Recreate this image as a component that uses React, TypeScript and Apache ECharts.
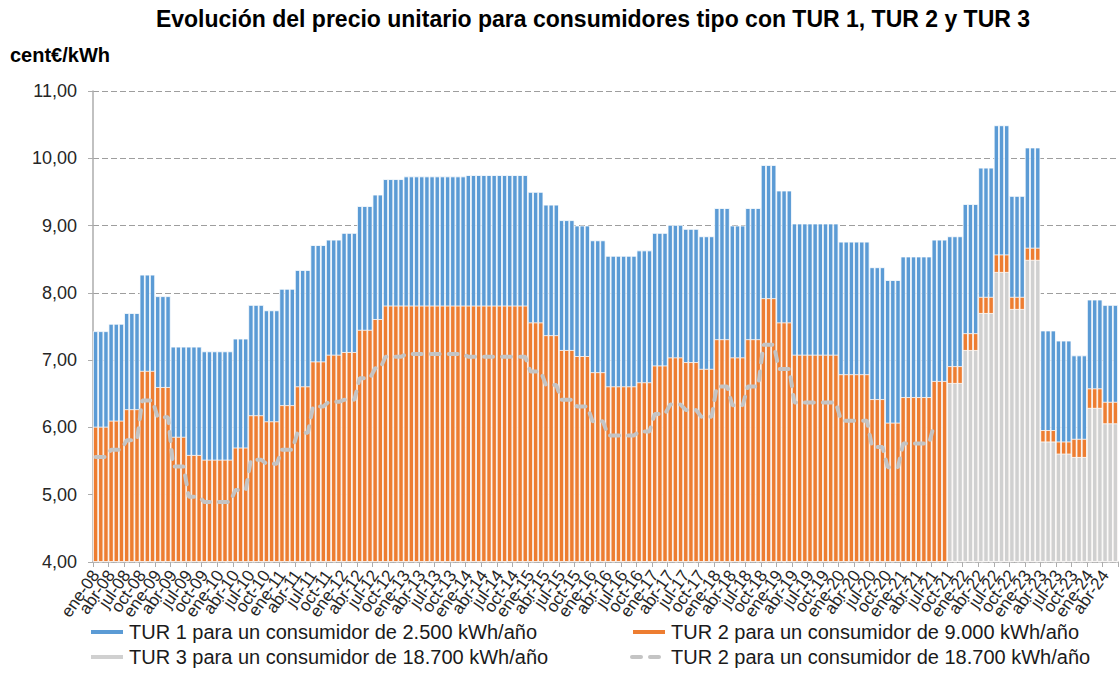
import React, { useEffect, useRef } from 'react';
import * as echarts from 'echarts';

// ---------- Categories (monthly, ene-08 … jun-24) ----------
const MONTHS = ['ene', 'feb', 'mar', 'abr', 'may', 'jun', 'jul', 'ago', 'sep', 'oct', 'nov', 'dic'];
const YEARS = ['08', '09', '10', '11', '12', '13', '14', '15', '16', '17', '18', '19', '20', '21', '22', '23', '24'];
const LAST_CATEGORY = 'jun-24';
const CATEGORIES: string[] = [];
outer: for (const y of YEARS) {
  for (const m of MONTHS) {
    const c = `${m}-${y}`;
    CATEGORIES.push(c);
    if (c === LAST_CATEGORY) break outer;
  }
}
// a tick label every quarter
const LABEL_EVERY = 3;

// ---------- Series names ----------
const NAME_TUR1 = 'TUR 1 para un consumidor de 2.500 kWh/año';
const NAME_TUR2 = 'TUR 2 para un consumidor de 9.000 kWh/año';
const NAME_TUR3 = 'TUR 3 para un consumidor de 18.700 kWh/año';
const NAME_TUR2_18700 = 'TUR 2 para un consumidor de 18.700 kWh/año';

// ---------- Values (cent€/kWh), one per month ----------
const TUR1 = [
  7.43, 7.43, 7.43, 7.54, 7.54, 7.54, 7.70, 7.70, 7.70, 8.27, 8.27, 8.27, // 2008
  7.95, 7.95, 7.95, 7.20, 7.20, 7.20, 7.20, 7.20, 7.20, 7.13, 7.13, 7.13, // 2009
  7.13, 7.13, 7.13, 7.32, 7.32, 7.32, 7.82, 7.82, 7.82, 7.74, 7.74, 7.74, // 2010
  8.06, 8.06, 8.06, 8.34, 8.34, 8.34, 8.71, 8.71, 8.71, 8.79, 8.79, 8.79, // 2011
  8.89, 8.89, 8.89, 9.29, 9.29, 9.29, 9.46, 9.46, 9.69, 9.69, 9.69, 9.69, // 2012
  9.73, 9.73, 9.73, 9.73, 9.73, 9.73, 9.73, 9.73, 9.73, 9.73, 9.73, 9.73, // 2013
  9.75, 9.75, 9.75, 9.75, 9.75, 9.75, 9.75, 9.75, 9.75, 9.75, 9.75, 9.75, // 2014
  9.50, 9.50, 9.50, 9.31, 9.31, 9.31, 9.08, 9.08, 9.08, 9.00, 9.00, 9.00, // 2015
  8.78, 8.78, 8.78, 8.55, 8.55, 8.55, 8.55, 8.55, 8.55, 8.63, 8.63, 8.63, // 2016
  8.89, 8.89, 8.89, 9.01, 9.01, 9.01, 8.95, 8.95, 8.95, 8.84, 8.84, 8.84, // 2017
  9.26, 9.26, 9.26, 9.00, 9.00, 9.00, 9.26, 9.26, 9.26, 9.90, 9.90, 9.90, // 2018
  9.52, 9.52, 9.52, 9.03, 9.03, 9.03, 9.03, 9.03, 9.03, 9.03, 9.03, 9.03, // 2019
  8.76, 8.76, 8.76, 8.76, 8.76, 8.76, 8.38, 8.38, 8.38, 8.19, 8.19, 8.19, // 2020
  8.54, 8.54, 8.54, 8.54, 8.54, 8.54, 8.79, 8.79, 8.79, 8.84, 8.84, 8.84, // 2021
  9.32, 9.32, 9.32, 9.86, 9.86, 9.86, 10.49, 10.49, 10.49, 9.44, 9.44, 9.44, // 2022
  10.16, 10.16, 10.16, 7.44, 7.44, 7.44, 7.29, 7.29, 7.29, 7.07, 7.07, 7.07, // 2023
  7.90, 7.90, 7.90, 7.82, 7.82, 7.82, // 2024
];

const TUR2 = [
  6.01, 6.01, 6.01, 6.10, 6.10, 6.10, 6.27, 6.27, 6.27, 6.84, 6.84, 6.84, // 2008
  6.60, 6.60, 6.60, 5.86, 5.86, 5.86, 5.59, 5.59, 5.59, 5.52, 5.52, 5.52, // 2009
  5.52, 5.52, 5.52, 5.70, 5.70, 5.70, 6.18, 6.18, 6.18, 6.09, 6.09, 6.09, // 2010
  6.33, 6.33, 6.33, 6.61, 6.61, 6.61, 6.98, 6.98, 6.98, 7.08, 7.08, 7.08, // 2011
  7.12, 7.12, 7.12, 7.45, 7.45, 7.45, 7.61, 7.61, 7.81, 7.81, 7.81, 7.81, // 2012
  7.81, 7.81, 7.81, 7.81, 7.81, 7.81, 7.81, 7.81, 7.81, 7.81, 7.81, 7.81, // 2013
  7.81, 7.81, 7.81, 7.81, 7.81, 7.81, 7.81, 7.81, 7.81, 7.81, 7.81, 7.81, // 2014
  7.56, 7.56, 7.56, 7.37, 7.37, 7.37, 7.15, 7.15, 7.15, 7.06, 7.06, 7.06, // 2015
  6.82, 6.82, 6.82, 6.61, 6.61, 6.61, 6.61, 6.61, 6.61, 6.67, 6.67, 6.67, // 2016
  6.92, 6.92, 6.92, 7.04, 7.04, 7.04, 6.97, 6.97, 6.97, 6.87, 6.87, 6.87, // 2017
  7.31, 7.31, 7.31, 7.04, 7.04, 7.04, 7.31, 7.31, 7.31, 7.92, 7.92, 7.92, // 2018
  7.56, 7.56, 7.56, 7.08, 7.08, 7.08, 7.08, 7.08, 7.08, 7.08, 7.08, 7.08, // 2019
  6.79, 6.79, 6.79, 6.79, 6.79, 6.79, 6.42, 6.42, 6.42, 6.07, 6.07, 6.07, // 2020
  6.45, 6.45, 6.45, 6.45, 6.45, 6.45, 6.69, 6.69, 6.69, 6.91, 6.91, 6.91, // 2021
  7.40, 7.40, 7.40, 7.94, 7.94, 7.94, 8.57, 8.57, 8.57, 7.94, 7.94, 7.94, // 2022
  8.67, 8.67, 8.67, 5.96, 5.96, 5.96, 5.79, 5.79, 5.79, 5.83, 5.83, 5.83, // 2023
  6.58, 6.58, 6.58, 6.38, 6.38, 6.38, // 2024
];

// TUR 3 exists from oct-21 onwards
const TUR3_FIRST = 'oct-21';
const TUR3 = [
  6.66, 6.66, 6.66, // oct-dic 2021
  7.15, 7.15, 7.15, 7.70, 7.70, 7.70, 8.31, 8.31, 8.31, 7.76, 7.76, 7.76, // 2022
  8.49, 8.49, 8.49, 5.79, 5.79, 5.79, 5.61, 5.61, 5.61, 5.56, 5.56, 5.56, // 2023
  6.29, 6.29, 6.29, 6.06, 6.06, 6.06, // 2024
];

// TUR 2 for an 18.700 kWh/año consumer, ene-08 … jul-21
const TUR2_18700 = [
  5.56, 5.56, 5.56, 5.67, 5.67, 5.67, 5.81, 5.81, 5.81, 6.40, 6.40, 6.40, // 2008
  6.15, 6.15, 6.15, 5.42, 5.42, 5.42, 4.97, 4.97, 4.97, 4.89, 4.89, 4.89, // 2009
  4.89, 4.89, 4.89, 5.07, 5.07, 5.07, 5.52, 5.52, 5.52, 5.46, 5.46, 5.46, // 2010
  5.67, 5.67, 5.67, 5.92, 5.92, 5.92, 6.31, 6.31, 6.31, 6.38, 6.38, 6.38, // 2011
  6.41, 6.41, 6.41, 6.73, 6.73, 6.73, 6.88, 6.88, 7.05, 7.05, 7.05, 7.05, // 2012
  7.09, 7.09, 7.09, 7.09, 7.09, 7.09, 7.09, 7.09, 7.09, 7.09, 7.09, 7.09, // 2013
  7.05, 7.05, 7.05, 7.05, 7.05, 7.05, 7.05, 7.05, 7.05, 7.05, 7.05, 7.05, // 2014
  6.83, 6.83, 6.83, 6.63, 6.63, 6.63, 6.41, 6.41, 6.41, 6.31, 6.31, 6.31, // 2015
  6.09, 6.09, 6.09, 5.88, 5.88, 5.88, 5.88, 5.88, 5.88, 5.94, 5.94, 5.94, // 2016
  6.20, 6.20, 6.20, 6.34, 6.34, 6.34, 6.26, 6.26, 6.26, 6.16, 6.16, 6.16, // 2017
  6.61, 6.61, 6.61, 6.33, 6.33, 6.33, 6.61, 6.61, 6.61, 7.23, 7.23, 7.23, // 2018
  6.87, 6.87, 6.87, 6.37, 6.37, 6.37, 6.37, 6.37, 6.37, 6.37, 6.37, 6.37, // 2019
  6.10, 6.10, 6.10, 6.10, 6.10, 6.10, 5.71, 5.71, 5.71, 5.41, 5.41, 5.41, // 2020
  5.76, 5.76, 5.76, 5.76, 5.76, 5.76, 6.05, // 2021 (ene-jul)
];

const Y_MIN = 4;
const Y_MAX = 11;
const Y_STEP = 1;

const FONT = '"Liberation Sans", Arial, sans-serif';
const LINE_COLOR = '#C4C4C4';

function alignToCategories(values: number[], firstCategory: string): (number | null)[] {
  const start = CATEGORIES.indexOf(firstCategory);
  return CATEGORIES.map((_, i) => {
    const k = i - start;
    return k >= 0 && k < values.length ? values[k] : null;
  });
}

export default function App() {
  const ref = useRef<HTMLDivElement>(null);

  useEffect(() => {
    if (!ref.current) return;
    const chart = echarts.init(ref.current, undefined, { renderer: 'svg' });

    const barBase = {
      type: 'bar' as const,
      barGap: '-100%',
      barCategoryGap: '0%',
    };

    const legendCommon = {
      orient: 'vertical' as const,
      top: 622,
      padding: 0,
      itemGap: 5,
      itemWidth: 34,
      itemHeight: 6,
      selectedMode: false,
      textStyle: { fontSize: 20, lineHeight: 20, color: '#1a1a1a', fontFamily: FONT },
    };

    chart.setOption({
      animation: false,
      backgroundColor: '#ffffff',
      textStyle: { fontFamily: FONT },
      graphic: [
        {
          type: 'text',
          x: 593,
          y: 19,
          style: {
            text: 'Evolución del precio unitario para consumidores tipo con TUR 1, TUR 2 y TUR 3',
            font: `bold 23px ${FONT}`,
            fill: '#000000',
            textAlign: 'center',
            textVerticalAlign: 'middle',
          },
        },
        {
          type: 'text',
          x: 10,
          y: 55,
          style: {
            text: 'cent€/kWh',
            font: `bold 20px ${FONT}`,
            fill: '#000000',
            textAlign: 'left',
            textVerticalAlign: 'middle',
          },
        },
      ],
      legend: [
        {
          ...legendCommon,
          left: 89,
          data: [
            { name: NAME_TUR1, icon: 'rect' },
            { name: NAME_TUR3, icon: 'rect' },
          ],
        },
        {
          ...legendCommon,
          left: 630,
          data: [
            { name: NAME_TUR2, icon: 'rect' },
            {
              name: NAME_TUR2_18700,
              itemStyle: { opacity: 0 },
              lineStyle: { color: LINE_COLOR, width: 4, type: [9, 9], cap: 'round', opacity: 1 },
            },
          ],
        },
      ],
      grid: { left: 93, right: 1, top: 91, bottom: 135, containLabel: false },
      xAxis: {
        type: 'category',
        data: CATEGORIES,
        boundaryGap: true,
        axisLine: { show: true, lineStyle: { color: '#ADADAD', width: 1.5 } },
        axisTick: {
          show: true,
          interval: (i: number) => i % LABEL_EVERY === 0,
          length: 5,
          lineStyle: { color: '#ADADAD', width: 1 },
        },
        axisLabel: {
          interval: 0,
          formatter: (v: string, i: number) => (i % LABEL_EVERY === 0 ? v : ''),
          hideOverlap: false,
          rotate: 55,
          margin: 10,
          fontSize: 17,
          color: '#262626',
          fontFamily: FONT,
        },
        splitLine: { show: false },
      },
      yAxis: {
        type: 'value',
        min: Y_MIN,
        max: Y_MAX,
        interval: Y_STEP,
        startValue: Y_MIN,
        axisLine: { show: true, lineStyle: { color: '#ADADAD', width: 1.5 } },
        axisTick: { show: true, length: 5, lineStyle: { color: '#ADADAD' } },
        axisLabel: {
          margin: 16,
          fontSize: 18,
          color: '#262626',
          fontFamily: FONT,
          formatter: (v: number) => v.toFixed(2).replace('.', ','),
        },
        splitLine: { show: true, lineStyle: { color: '#9E9E9E', width: 1, type: [6, 3] } },
      },
      series: [
        {
          ...barBase,
          name: NAME_TUR1,
          data: TUR1,
          itemStyle: { color: '#5B9BD5', borderColor: '#ffffff', borderWidth: 0.8 },
          z: 2,
        },
        {
          ...barBase,
          name: NAME_TUR2,
          data: TUR2,
          itemStyle: { color: '#ED7D31', borderColor: '#ffffff', borderWidth: 0.8 },
          z: 3,
        },
        {
          ...barBase,
          name: NAME_TUR3,
          data: alignToCategories(TUR3, TUR3_FIRST),
          itemStyle: { color: '#D0D0D0', borderColor: '#ffffff', borderWidth: 0.8 },
          z: 4,
        },
        {
          type: 'line',
          name: NAME_TUR2_18700,
          data: alignToCategories(TUR2_18700, CATEGORIES[0]),
          symbol: 'none',
          showSymbol: false,
          connectNulls: false,
          itemStyle: { color: LINE_COLOR },
          lineStyle: { color: LINE_COLOR, width: 4, type: [9, 9], cap: 'round' },
          z: 5,
        },
      ],
    });

    return () => chart.dispose();
  }, []);

  return (
    <div
      ref={ref}
      style={{ position: 'fixed', left: 0, top: 0, width: 1119, height: 697, background: '#ffffff' }}
    />
  );
}
